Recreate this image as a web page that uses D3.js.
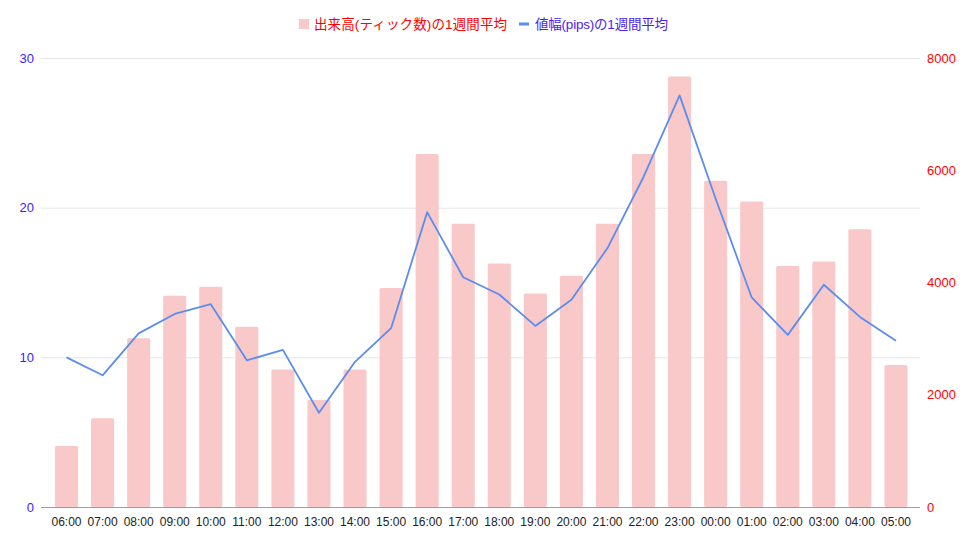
<!DOCTYPE html>
<html>
<head>
<meta charset="utf-8">
<script src="https://cdn.jsdelivr.net/npm/d3@7"></script>
<style>
  body { margin: 0; background: #fff; }
  svg { display: block; font-family: Arial, "Liberation Sans", "Noto Sans CJK JP", sans-serif; }
</style>
</head>
<body>
<svg width="976" height="541"></svg>
<script>
/// chart data
var hours = ["06:00","07:00","08:00","09:00","10:00","11:00","12:00","13:00","14:00","15:00","16:00","17:00",
             "18:00","19:00","20:00","21:00","22:00","23:00","00:00","01:00","02:00","03:00","04:00","05:00"];
// ticks per hour, 1 week average (right axis)
var ticks_avg = [1085,1580,3005,3765,3925,3210,2450,1905,2450,3900,6290,5045,
                 4340,3805,4120,5045,6290,7670,5815,5445,4295,4375,4950,2530];
// range in pips, 1 week average (left axis)
var pips_avg = [10.0,8.8,11.6,12.9,13.55,9.8,10.5,6.3,9.7,11.95,19.7,15.35,
                14.2,12.1,13.85,17.3,22.05,27.5,20.6,14.0,11.5,14.85,12.7,11.1];
var left_ticks = [0,10,20,30];
var right_ticks = [0,2000,4000,6000,8000];
var legend_labels = ["出来高(ティック数)の1週間平均", "値幅(pips)の1週間平均"];

var margin = {left: 41, right: 56, top: 58, bottom: 34};
var svg = d3.select("svg");
var W = +svg.attr("width"), H = +svg.attr("height");
var x0 = margin.left, x1 = W - margin.right, y0 = H - margin.bottom, y1 = margin.top;

var x = d3.scaleBand().domain(hours).range([48.5, 914]).paddingInner(0.36).paddingOuter(0.18);
var yL = d3.scaleLinear().domain([0, 30]).range([y0, y1]);
var yR = d3.scaleLinear().domain([0, 8000]).range([y0, y1]);

// gridlines (left axis)
svg.append("g")
  .selectAll("line")
  .data(left_ticks.filter(function(d) { return d > 0; }))
  .enter().append("line")
    .attr("x1", x0).attr("x2", x1)
    .attr("y1", function(d) { return yL(d) + 0.5; })
    .attr("y2", function(d) { return yL(d) + 0.5; })
    .attr("stroke", "#e6e6e6").attr("stroke-width", 1);

// bars
svg.append("g")
  .selectAll("rect")
  .data(ticks_avg)
  .enter().append("rect")
    .attr("x", function(d, i) { return x(hours[i]); })
    .attr("y", function(d) { return yR(d); })
    .attr("width", x.bandwidth())
    .attr("height", function(d) { return y0 - yR(d); })
    .attr("rx", 1.5)
    .attr("fill", "#f9c8c9");

// baseline
svg.append("line")
  .attr("x1", x0).attr("x2", x1)
  .attr("y1", y0 + 0.5).attr("y2", y0 + 0.5)
  .attr("stroke", "#9e9e9e").attr("stroke-width", 1);

// line
var line = d3.line()
  .x(function(d, i) { return x(hours[i]) + x.bandwidth() / 2; })
  .y(function(d) { return yL(d); });
svg.append("path")
  .datum(pips_avg)
  .attr("d", line)
  .attr("fill", "none")
  .attr("stroke", "#5b8ded")
  .attr("stroke-width", 1.8)
  .attr("stroke-linejoin", "round");

// left axis
var axL = svg.append("g")
  .attr("transform", "translate(" + (x0 - 7) + ",0)")
  .call(d3.axisLeft(yL).tickValues(left_ticks).tickSize(0).tickPadding(0));
axL.select(".domain").remove();
axL.selectAll("text").attr("fill", "#3c1bff").style("font-size", "13px").style("font-family", "Arial, 'Liberation Sans', sans-serif");

// right axis
var axR = svg.append("g")
  .attr("transform", "translate(" + (x1 + 7) + ",0)")
  .call(d3.axisRight(yR).tickValues(right_ticks).tickSize(0).tickPadding(0).tickFormat(d3.format("d")));
axR.select(".domain").remove();
axR.selectAll("text").attr("fill", "#ff0000").style("font-size", "13px").style("font-family", "Arial, 'Liberation Sans', sans-serif");

// x axis labels
var axX = svg.append("g")
  .attr("transform", "translate(0," + (y0 + 7) + ")")
  .call(d3.axisBottom(x).tickSize(0).tickPadding(3));
axX.select(".domain").remove();
axX.selectAll("text").attr("fill", "#222").style("font-size", "12px").style("font-family", "Arial, 'Liberation Sans', sans-serif");

// legend
var lg = svg.append("g").style("font-size", "13.5px");
lg.append("rect").attr("x", 299).attr("y", 19).attr("width", 10).attr("height", 10).attr("fill", "#f9c8c9");
lg.append("text").attr("x", 314).attr("y", 29).attr("fill", "#ff0000").attr("textLength", 193).text(legend_labels[0]);
lg.append("rect").attr("x", 519).attr("y", 22.5).attr("width", 10).attr("height", 3).attr("fill", "#5b8ded");
lg.append("text").attr("x", 535).attr("y", 29).attr("fill", "#4b1cf0").attr("textLength", 133).text(legend_labels[1]);
</script>
</body>
</html>
